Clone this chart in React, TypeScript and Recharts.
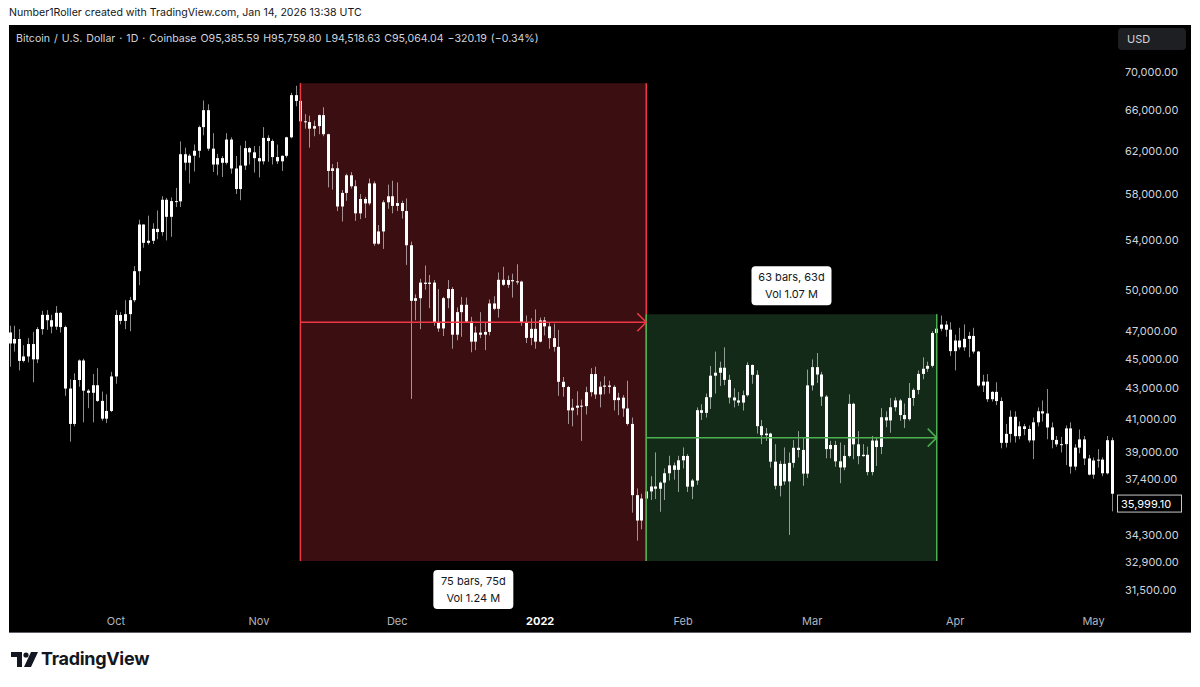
import React from "react";
import {
    ComposedChart,
    Bar,
    XAxis,
    YAxis,
    ReferenceArea,
    ReferenceLine,
    ReferenceDot
} from "recharts";

type Ohlc = [number, number, number, number];

// BTC/USD daily candles (Coinbase), [open, high, low, close]
const sep2021: Ohlc[] = [
    [46860, 47350, 44450, 46070], [46070, 47350, 45500, 46390], [46390, 47100, 44200, 44850],
    [44850, 45950, 44750, 45160], [45160, 46450, 44750, 46030], [46030, 46900, 43400, 44960],
    [44960, 47250, 44700, 47100], [47100, 48450, 46700, 48150], [48150, 48500, 47050, 47750],
    [47750, 48150, 46800, 47280], [47280, 48800, 47050, 48300], [48300, 48350, 46850, 47250],
    [47250, 47350, 42500, 42980], [42980, 43600, 39600, 40700], [40700, 44000, 40550, 43550],
    [43550, 44950, 43100, 44880], [44880, 45000, 40800, 42840], [42840, 42950, 41700, 42700],
    [42700, 43950, 40800, 43200], [43200, 44350, 42100, 42170], [42170, 42780, 40900, 41030],
    [41030, 42600, 40750, 41520], [41520, 44100, 41450, 43790]
];
const oct2021: Ohlc[] = [
    [43790, 48500, 43300, 48140], [48140, 48350, 47450, 47700], [47700, 49250, 47100, 48200],
    [48200, 49500, 46950, 49250], [49250, 51900, 49100, 51500], [51500, 55750, 50400, 55340],
    [55340, 55350, 53400, 53800], [53800, 56100, 53650, 53970], [53970, 55450, 53700, 54970],
    [54970, 56550, 54100, 54700], [54700, 57800, 54400, 57490], [57490, 57650, 54000, 56000],
    [56000, 57700, 54300, 57370], [57370, 58550, 56850, 57350], [57350, 62900, 56850, 61670],
    [61670, 62300, 60150, 60870], [60870, 61700, 58950, 61530], [61530, 62600, 60050, 62000],
    [62000, 64450, 61350, 64300], [64300, 67000, 63500, 66000], [66000, 66600, 62000, 62200],
    [62200, 63700, 60000, 60700], [60700, 61700, 59700, 61300], [61300, 61500, 59550, 60860],
    [60860, 63700, 60700, 63080], [63080, 63300, 59850, 60330], [60330, 61500, 58000, 58450],
    [58450, 62500, 57450, 60600], [60600, 62950, 60200, 62250], [62250, 62350, 60700, 61850],
    [61850, 62450, 59950, 61300]
];
const nov2021: Ohlc[] = [
    [61300, 62450, 59500, 61000], [61000, 64300, 60700, 63240], [63240, 63500, 60950, 62940],
    [62940, 63100, 60700, 61400], [61400, 62600, 60750, 61000], [61000, 61550, 60100, 61520],
    [61520, 63350, 61350, 63300], [63300, 67800, 63200, 67550], [67550, 68530, 66400, 66950],
    [66950, 68790, 62820, 64880], [64880, 65600, 64150, 64800], [64800, 65450, 62300, 64150],
    [64150, 64950, 63400, 64400], [64400, 65550, 63600, 65500], [65500, 66300, 63400, 63600],
    [63600, 63650, 58600, 60100], [60100, 60750, 58400, 60350], [60350, 60950, 56500, 56900],
    [56900, 58350, 55600, 58100], [58100, 59850, 57400, 59700], [59700, 60000, 58500, 58700],
    [58700, 59250, 55650, 56300], [56300, 58000, 55800, 57560], [57560, 57750, 55900, 57170],
    [57170, 59400, 57000, 58960], [58960, 59150, 53550, 53730], [53730, 55300, 53650, 54750],
    [54750, 57450, 53300, 57270], [57270, 58850, 56700, 57800], [57800, 59200, 56300, 56950]
];
const dec2021: Ohlc[] = [
    [56950, 59050, 56500, 57200], [57200, 57400, 55850, 56500], [56500, 57600, 52000, 53600],
    [53600, 53900, 42300, 49200], [49200, 49700, 47750, 49400], [49400, 50900, 47100, 50600],
    [50600, 51950, 50050, 50500], [50500, 51200, 48650, 50600], [50600, 50800, 47350, 47600],
    [47600, 50100, 46900, 47150], [47150, 49500, 46600, 49400], [49400, 50800, 48650, 50100],
    [50100, 50250, 45700, 46700], [46700, 48700, 46300, 48350], [48350, 49500, 46550, 48900],
    [48900, 49450, 47550, 47650], [47650, 48000, 45450, 46200], [46200, 47300, 45600, 46850],
    [46850, 48350, 46450, 46700], [46700, 47550, 45600, 46900], [46900, 49300, 46650, 49000],
    [49000, 49550, 48500, 48600], [48600, 51400, 47950, 50820], [50820, 51850, 50350, 50430],
    [50430, 51150, 50200, 50800], [50800, 51300, 49450, 50700], [50700, 52050, 50450, 50680],
    [50680, 50750, 47350, 47550], [47550, 48100, 46100, 46470], [46470, 47900, 45950, 47120],
    [47120, 48550, 45700, 46200]
];
const jan2022: Ohlc[] = [
    [46200, 47950, 46150, 47740], [47740, 47990, 46650, 47300], [47300, 47550, 45700, 46450],
    [46450, 47500, 45500, 45830], [45830, 47050, 42500, 43430], [43430, 43750, 42450, 43080],
    [43080, 43150, 40700, 41560], [41560, 42300, 40550, 41730], [41730, 42800, 41250, 41860],
    [41860, 42250, 39650, 41830], [41830, 43100, 41300, 42740], [42740, 44350, 42450, 43950],
    [43950, 44450, 42300, 42590], [42590, 43450, 41750, 43100], [43100, 43800, 42600, 43180],
    [43180, 43500, 42650, 43090], [43090, 43200, 41550, 42220], [42220, 42700, 41250, 42380],
    [42380, 42550, 41150, 41680], [41680, 43500, 40600, 40700], [40700, 41100, 35500, 36470],
    [36470, 36850, 34000, 35070], [35070, 36550, 34600, 36280], [36280, 37550, 32950, 36680],
    [36680, 37550, 36200, 36960], [36960, 38950, 36250, 36830], [36830, 37250, 35550, 37180],
    [37180, 38000, 36200, 37720], [37720, 38750, 37300, 38180], [38180, 38350, 37350, 37920],
    [37920, 38750, 36650, 38480]
];
const feb2022: Ohlc[] = [
    [38480, 39250, 38000, 38740], [38740, 38850, 36650, 36950], [36950, 37400, 36250, 37300],
    [37300, 41750, 37050, 41570], [41570, 41950, 40950, 41400], [41400, 42650, 41100, 42410],
    [42410, 44500, 41650, 43840], [43840, 45500, 42650, 44040], [44040, 44800, 43150, 44380],
    [44380, 45800, 43200, 43560], [43560, 43900, 42000, 42390], [42390, 43000, 41750, 42200],
    [42200, 42750, 41850, 42060], [42060, 42850, 41550, 42540], [42540, 44750, 42450, 44570],
    [44570, 44600, 43300, 43900], [43900, 44200, 40100, 40560], [40560, 40950, 39450, 40000],
    [40000, 40450, 39650, 40100], [40100, 40150, 38050, 38400], [38400, 39450, 36800, 37000],
    [37000, 38450, 36400, 38270], [38270, 39250, 37050, 37250], [37250, 38950, 34300, 38330],
    [38330, 39700, 38050, 39230], [39230, 40250, 38650, 39100], [39100, 39850, 37000, 37700],
    [37700, 44250, 37450, 43190]
];
const mar2022: Ohlc[] = [
    [43190, 44950, 42850, 44420], [44420, 45400, 43350, 43920], [43920, 44100, 41850, 42450],
    [42450, 42550, 38600, 39150], [39150, 39650, 38600, 39400], [39400, 39650, 38100, 38420],
    [38420, 39550, 37150, 38060], [38060, 39400, 37900, 38740], [38740, 42600, 38650, 41980],
    [41980, 42050, 38550, 39440], [39440, 40250, 38250, 38730], [38730, 39450, 38700, 38810],
    [38810, 39300, 37600, 37790], [37790, 39950, 37600, 39670], [39670, 39850, 38150, 39280],
    [39280, 41700, 38850, 41120], [41120, 41500, 40500, 40920], [40920, 42350, 40150, 41760],
    [41760, 42400, 41500, 42200], [42200, 42300, 40900, 41260], [41260, 42000, 40450, 41000],
    [41000, 43350, 40900, 42360], [42360, 43000, 41850, 42890], [42890, 44200, 42600, 43960],
    [43960, 45100, 43600, 44310], [44310, 44800, 44100, 44510], [44510, 46950, 44400, 46820],
    [46820, 48190, 46650, 47130], [47130, 48100, 46950, 47430], [47430, 47700, 46550, 47060],
    [47060, 47600, 45200, 45530]
];
const apr2022: Ohlc[] = [
    [45530, 46700, 44200, 46280], [46280, 47200, 45650, 45800], [45800, 47450, 45550, 46400],
    [46400, 46900, 45100, 46610], [46610, 47200, 45350, 45500], [45500, 45550, 43100, 43180],
    [43180, 43900, 42750, 43440], [43440, 43950, 42100, 42280], [42280, 42800, 42130, 42760],
    [42760, 43400, 41900, 42160], [42160, 42400, 39200, 39530], [39530, 40700, 39250, 40080],
    [40080, 41550, 39550, 41150], [41150, 41500, 39550, 39940], [39940, 40850, 39750, 40550],
    [40550, 40700, 40000, 40380], [40380, 40600, 39550, 39680], [39680, 41100, 38550, 40800],
    [40800, 41750, 40550, 41500], [41500, 42200, 40850, 41360], [41360, 42950, 39750, 40480],
    [40480, 40800, 39200, 39710], [39710, 39950, 39300, 39440], [39440, 39900, 38950, 39450],
    [39450, 40600, 38200, 40420], [40420, 40800, 37700, 38110], [38110, 39450, 37900, 39240],
    [39240, 40350, 38900, 39740], [39740, 39950, 38200, 38590], [38590, 38800, 37600, 37640]
];
const may2022: Ohlc[] = [
    [37640, 38650, 37400, 38470], [38470, 39150, 38050, 38520], [38520, 38650, 37550, 37720],
    [37720, 39950, 37650, 39690], [39690, 39850, 35570, 36550]
];

const firstDay = "2021-09-08";
const priceTicks = [70000, 66000, 62000, 58000, 54000, 50000, 47000, 45000, 43000, 41000, 39000, 37400, 34300, 32900, 31500];
const timeLabels = ["Oct", "Nov", "Dec", "2022", "Feb", "Mar", "Apr", "May"];
const lastPrice = 35999.1;

const redRange = { start: "2021-11-10", end: "2022-01-24", high: 68790, low: 32950, bars: "75 bars, 75d", vol: "Vol 1.24 M" };
const greenRange = { start: "2022-01-24", end: "2022-03-28", high: 48190, low: 32950, bars: "63 bars, 63d", vol: "Vol 1.07 M" };

const DAY = 86400000;
const dayOf = (s: string) => Math.round((Date.parse(s) - Date.parse(firstDay)) / DAY);

const candles = [sep2021, oct2021, nov2021, dec2021, jan2022, feb2022, mar2022, apr2022, may2022]
    .flat()
    .map(([o, h, l, c], i) => ({
        day: i,
        wick: [l, h],
        body: [Math.min(o, c), Math.max(o, c)]
    }));

const monthStarts = candles
    .filter((d) => new Date(Date.parse(firstDay) + d.day * DAY).getUTCDate() === 1)
    .map((d) => d.day);
const labelByDay = new Map(monthStarts.map((d, i) => [d, timeLabels[i]]));

const FONT = 'Inter, "Noto Sans", sans-serif';
const X_DOMAIN = [-0.2, 239.66];
const Y_DOMAIN = [30554, 75258];

const fmt = (v: number) => v.toLocaleString("en-US", { minimumFractionDigits: 2, maximumFractionDigits: 2 });

const Wick = (p: any) => {
    if (p.x == null || p.y == null) return null;
    const cx = Math.floor(p.x + p.width / 2);
    const top = Math.min(p.y, p.y + p.height);
    return <rect x={cx} y={top} width={1} height={Math.max(Math.abs(p.height), 1)} fill="rgba(255,255,255,0.55)" />;
};

const Body = (p: any) => {
    if (p.x == null || p.y == null) return null;
    const cx = Math.floor(p.x + p.width / 2);
    const top = Math.min(p.y, p.y + p.height);
    return <rect x={cx - 1} y={top} width={3} height={Math.max(Math.abs(p.height), 1)} fill="#ffffff" />;
};

const PriceTick = ({ y, payload }: any) => (
    <text x={1116} y={y + 4} fill="#d1d4dc" fontSize={11} fontFamily={FONT}>
        {fmt(payload.value)}
    </text>
);

const TimeTick = ({ x, payload }: any) => {
    const label = labelByDay.get(payload.value) ?? "";
    const isYear = /^\d+$/.test(label);
    return (
        <text x={x} y={600} textAnchor="middle" fill={isYear ? "#ffffff" : "#b2b5be"} fontSize={11}
            fontWeight={isYear ? 700 : 400} fontFamily={FONT}>
            {label}
        </text>
    );
};

const LastPriceLabel = ({ viewBox }: any) => {
    const y = viewBox.y;
    return (
        <g>
            <rect x={1108.5} y={y - 8.5} width={64} height={17} fill="#000" stroke="#c8c8c8" strokeWidth={1} />
            <text x={1112} y={y + 4} fill="#ffffff" fontSize={11} fontFamily={FONT}>{fmt(lastPrice)}</text>
        </g>
    );
};

const Arrow = (color: string) => (p: any) => (
    <path d={`M${p.cx - 9},${p.cy - 9} L${p.cx},${p.cy} L${p.cx - 9},${p.cy + 9}`} stroke={color} strokeWidth={1.5} fill="none" />
);

const InfoBox = (bars: string, vol: string, above: boolean) => (p: any) => {
    const top = above ? p.cy - 48 : p.cy + 9;
    return (
        <g>
            <rect x={p.cx - 40} y={top} width={80} height={39} rx={4} fill="#ffffff" />
            <text x={p.cx} y={top + 15} textAnchor="middle" fill="#131722" fontSize={11} fontFamily={FONT}>{bars}</text>
            <text x={p.cx} y={top + 32} textAnchor="middle" fill="#131722" fontSize={11} fontFamily={FONT}>{vol}</text>
        </g>
    );
};

function RangeDrawing(r: typeof redRange, color: string, fill: string, labelAbove: boolean) {
    const d1 = dayOf(r.start);
    const d2 = dayOf(r.end);
    const mid = Math.sqrt(r.high * r.low);
    return [
        <ReferenceArea key="a" xAxisId="t" yAxisId="p" x1={d1} x2={d2} y1={r.low} y2={r.high} fill={fill} fillOpacity={1} stroke="none" ifOverflow="visible" />,
        <ReferenceLine key="l" xAxisId="t" yAxisId="p" segment={[{ x: d1, y: r.low }, { x: d1, y: r.high }]} stroke={color} strokeWidth={1.5} ifOverflow="visible" />,
        <ReferenceLine key="r" xAxisId="t" yAxisId="p" segment={[{ x: d2, y: r.low }, { x: d2, y: r.high }]} stroke={color} strokeWidth={1.5} ifOverflow="visible" />,
        <ReferenceLine key="m" xAxisId="t" yAxisId="p" segment={[{ x: d1, y: mid }, { x: d2, y: mid }]} stroke={color} strokeWidth={1.5} ifOverflow="visible" />,
        <ReferenceDot key="h" xAxisId="t" yAxisId="p" x={d2} y={mid} r={0} shape={Arrow(color)} ifOverflow="visible" />,
        <ReferenceDot key="b" xAxisId="t" yAxisId="p" x={(d1 + d2) / 2} y={labelAbove ? r.high : r.low} r={0}
            shape={InfoBox(r.bars, r.vol, labelAbove)} ifOverflow="visible" />
    ];
}

function TvLogo() {
    return (
        <svg width={28} height={16} viewBox="0 0 28 16" style={{ position: "absolute", left: 11, top: 652 }}>
            <path d="M0 0 H11 V15 H6 V5 H0 Z" fill="#131722" />
            <circle cx={15} cy={3} r={2.6} fill="#131722" />
            <path d="M20 0 H27 L20 15 H13 Z" fill="#131722" />
        </svg>
    );
}

export default function App() {
    return (
        <div style={{ position: "relative", width: 1200, height: 687, background: "#fff", fontFamily: FONT, overflow: "hidden" }}>
            <style>{"body{margin:0}"}</style>
            <div style={{ position: "absolute", left: 9, top: 6, fontSize: 10.6, color: "#131722", whiteSpace: "nowrap" }}>
                Number1Roller created with TradingView.com, Jan 14, 2026 13:38 UTC
            </div>
            <div style={{ position: "absolute", left: 9, top: 25, width: 1182, height: 607, background: "#000", borderBottom: "1px solid #5d606b" }} />
            <div style={{ position: "absolute", left: 9, top: 25 }}>
                <ComposedChart width={1182} height={608} data={candles} margin={{ top: 0, right: 0, bottom: 0, left: 0 }}>
                    <XAxis xAxisId="t" dataKey="day" type="number" domain={X_DOMAIN} allowDataOverflow ticks={monthStarts}
                        interval={0} tick={<TimeTick />} axisLine={false} tickLine={false} height={23} />
                    <XAxis xAxisId="w" dataKey="day" type="number" domain={X_DOMAIN} allowDataOverflow hide />
                    <YAxis yAxisId="p" orientation="right" scale="log" domain={Y_DOMAIN} allowDataOverflow ticks={priceTicks}
                        interval={0} tick={<PriceTick />} axisLine={false} tickLine={false} width={76} />
                    {RangeDrawing(redRange, "#f23645", "#3b0e12", false)}
                    {RangeDrawing(greenRange, "#4caf50", "#132a19", true)}
                    <Bar xAxisId="w" yAxisId="p" dataKey="wick" barSize={3} shape={<Wick />} isAnimationActive={false} />
                    <Bar xAxisId="t" yAxisId="p" dataKey="body" barSize={3} shape={<Body />} isAnimationActive={false} />
                    <ReferenceLine xAxisId="t" yAxisId="p" y={lastPrice} stroke="#000" strokeOpacity={0} ifOverflow="visible"
                        label={<LastPriceLabel />} />
                </ComposedChart>
            </div>
            <div style={{ position: "absolute", left: 16, top: 32, fontSize: 10.6, color: "#d1d4dc", whiteSpace: "pre", wordSpacing: 1 }}>
                {"Bitcoin / U.S. Dollar · 1D · Coinbase O95,385.59 H95,759.80 L94,518.63 C95,064.04 −320.19 (−0.34%)"}
            </div>
            <div style={{ position: "absolute", left: 1118, top: 28, width: 68, height: 22, borderRadius: 4, background: "#1e1f22",
                color: "#d1d4dc", fontSize: 11, lineHeight: "22px", paddingLeft: 9, boxSizing: "border-box" }}>
                USD
            </div>
            <TvLogo />
            <div style={{ position: "absolute", left: 41, top: 648, fontSize: 18, fontWeight: 700, color: "#131722", letterSpacing: -0.3 }}>
                TradingView
            </div>
        </div>
    );
}
